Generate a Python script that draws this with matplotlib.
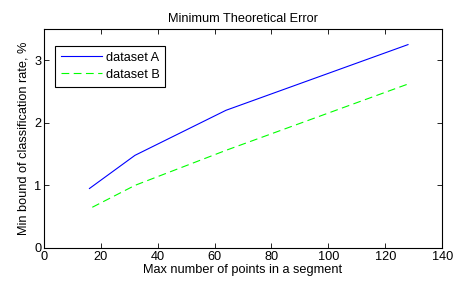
import matplotlib
matplotlib.use("Agg")
import matplotlib.pyplot as plt

# values
pts_a = [16, 32, 64, 128]
err_a = [0.95, 1.48, 2.2, 3.25]
pts_b = [17, 32, 64, 128]
err_b = [0.65, 1.0, 1.56, 2.62]
xticks = [0, 20, 40, 60, 80, 100, 120, 140]
yticks = [0, 1, 2, 3]

plt.rcParams['font.family'] = ['Liberation Sans', 'DejaVu Sans']
fs = 9.2

fig = plt.figure(figsize=(4.53, 2.84), dpi=100)
ax = fig.add_axes([0.097, 0.127, 0.879, 0.771])

ax.plot(pts_a, err_a, color=(0, 0, 1), lw=0.8, label='dataset A')
ax.plot(pts_b, err_b, color=(0, 1, 0), lw=0.8, ls=(0, (7, 4)), label='dataset B')

ax.set_xlim(0, 140)
ax.set_ylim(0, 3.5)
ax.set_xticks(xticks)
ax.set_yticks(yticks)
ax.tick_params(direction='in', top=True, right=True, length=3.5, width=0.6, labelsize=fs, pad=2)
for s in ax.spines.values():
    s.set_linewidth(0.8)

ax.set_title('Minimum Theoretical Error', fontsize=fs, pad=5)
ax.set_xlabel('Max number of points in a segment', fontsize=fs, labelpad=1)
ax.set_ylabel('Min bound of classification rate, %', fontsize=fs, labelpad=3)

leg = ax.legend(loc='upper left', bbox_to_anchor=(0.028, 0.922), fancybox=False,
                edgecolor='black', framealpha=1, fontsize=fs, handlelength=3.2,
                borderpad=0.45, labelspacing=0.4, handletextpad=0.3, borderaxespad=0)
leg.get_frame().set_linewidth(0.8)

fig.savefig('out.png', dpi=100)
